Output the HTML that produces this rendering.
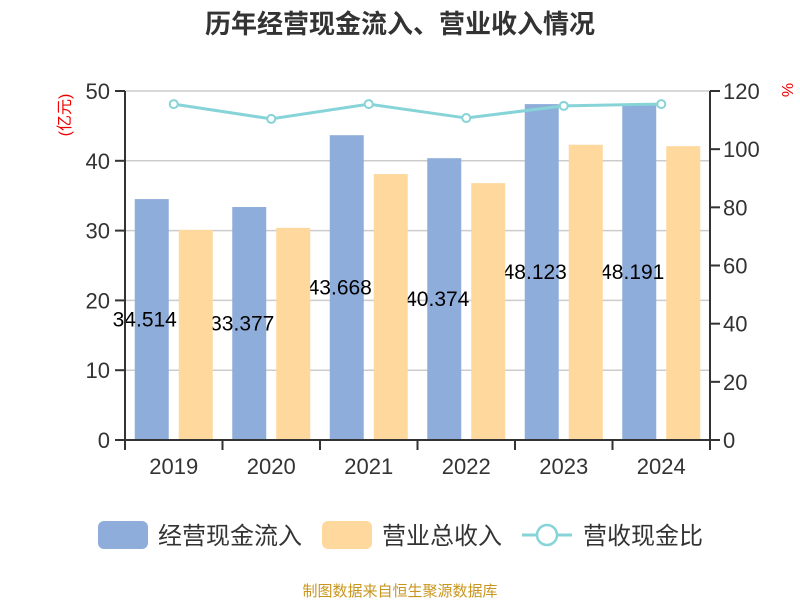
<!DOCTYPE html>
<html><head><meta charset="utf-8"><style>
body{margin:0;background:#fff;}
svg text{font-family:"Liberation Sans","Noto Sans CJK SC",sans-serif;}
</style></head><body>
<svg id="c" width="800" height="600" xmlns="http://www.w3.org/2000/svg">
<text x="400" y="33" text-anchor="middle" font-size="26" font-weight="bold" fill="#333">历年经营现金流入、营业收入情况</text>
<g id="grid"></g><g id="blue"></g><g id="labels"></g><g id="orange"></g><g id="axes"></g><g id="line"></g>
<text transform="translate(70,115) rotate(-90)" text-anchor="middle" font-size="16" fill="#e00">(亿元)</text>
<text transform="translate(782,90) rotate(90)" text-anchor="middle" font-size="16" fill="#e00">%</text>
<g>
<rect x="98" y="521" width="50" height="28" rx="6" fill="#8eadda"/>
<text x="158" y="544" font-size="24" fill="#333">经营现金流入</text>
<rect x="322" y="521" width="50" height="28" rx="6" fill="#fed89c"/>
<text x="382" y="544" font-size="24" fill="#333">营业总收入</text>
<line x1="522" y1="535" x2="572" y2="535" stroke="#86d4d8" stroke-width="3"/>
<circle cx="547" cy="535" r="10" fill="#fff" stroke="#86d4d8" stroke-width="2.5"/>
<text x="583" y="544" font-size="24" fill="#333">营收现金比</text>
</g>
<text x="400" y="596" text-anchor="middle" font-size="15" fill="#c8961e">制图数据来自恒生聚源数据库</text>
</svg>
<script>
const categories=["2019","2020","2021","2022","2023","2024"];
const cashInflow=[34.514,33.377,43.668,40.374,48.123,48.191];
const revenue=[30.1,30.4,38.1,36.8,42.3,42.1];
const ratio=[115.5,110.4,115.5,110.7,114.9,115.5];
const leftTicks=[0,10,20,30,40,50];
const rightTicks=[0,20,40,60,80,100,120];
const NS="http://www.w3.org/2000/svg";
const X0=125,X1=710,Y0=440,Y1=91;
const band=(X1-X0)/categories.length;
const yL=v=>Y0-(v/50)*(Y0-Y1);
const yR=v=>Y0-(v/120)*(Y0-Y1);
const xC=i=>X0+band*(i+0.5);
function mk(tag,attrs,parent){const e=document.createElementNS(NS,tag);for(const k in attrs)e.setAttribute(k,attrs[k]);document.getElementById(parent).appendChild(e);return e;}
leftTicks.forEach(t=>{
 if(t>0){const g=mk('line',{x1:X0,x2:X1,y1:yL(t),y2:yL(t),stroke:'#ccc','stroke-width':1.5},'grid');
 
 }
 const tk=mk('line',{x1:X0-10,x2:X0,y1:yL(t),y2:yL(t),stroke:'#333','stroke-width':2},'axes');
 
 
 const tx=mk('text',{x:X0-15,y:yL(t)+8,'text-anchor':'end','font-size':22,fill:'#333'},'axes');tx.textContent=t;
 
 
});
rightTicks.forEach(t=>{
 const tk=mk('line',{x1:X1,x2:X1+10,y1:yR(t),y2:yR(t),stroke:'#333','stroke-width':2},'axes');
 
 
 const tx=mk('text',{x:X1+13,y:yR(t)+8,'font-size':22,fill:'#333'},'axes');tx.textContent=t;
 
 
});
[[X0,Y1,X0,Y0],[X1,Y1,X1,Y0],[X0,Y0,X1,Y0]].forEach(a=>{
 const l=mk('line',{x1:a[0],y1:a[1],x2:a[2],y2:a[3],stroke:'#333','stroke-width':2},'axes');
 
 
});
for(let i=0;i<=categories.length;i++){
 const l=mk('line',{x1:X0+band*i,x2:X0+band*i,y1:Y0,y2:Y0+10,stroke:'#333','stroke-width':2},'axes');
 
 
}
const bw=34;
categories.forEach((c,i)=>{
 const cx=xC(i);
 const b=mk('rect',{x:cx-39,y:yL(cashInflow[i]),width:bw,height:Y0-yL(cashInflow[i]),fill:'#8eadda'},'blue');
 
 
 const o=mk('rect',{x:cx+5,y:yL(revenue[i]),width:bw,height:Y0-yL(revenue[i]),fill:'#fed89c'},'orange');
 
 
 const lb=mk('text',{x:cx-29,y:(yL(cashInflow[i])+Y0)/2+7,'text-anchor':'middle','font-size':21,fill:'#000'},'labels');lb.textContent=cashInflow[i].toFixed(3);
 
 
 const xl=mk('text',{x:cx,y:474,'text-anchor':'middle','font-size':22,fill:'#333'},'axes');xl.textContent=c;
 
 
});
const pl=mk('polyline',{points:ratio.map((v,i)=>xC(i)+','+yR(v)).join(' '),fill:'none',stroke:'#86d4d8','stroke-width':3},'line');


ratio.forEach((v,i)=>{
 const p=mk('circle',{cx:xC(i),cy:yR(v),r:4,fill:'#fff',stroke:'#86d4d8','stroke-width':2},'line');
 
 
});
</script>
</body></html>
